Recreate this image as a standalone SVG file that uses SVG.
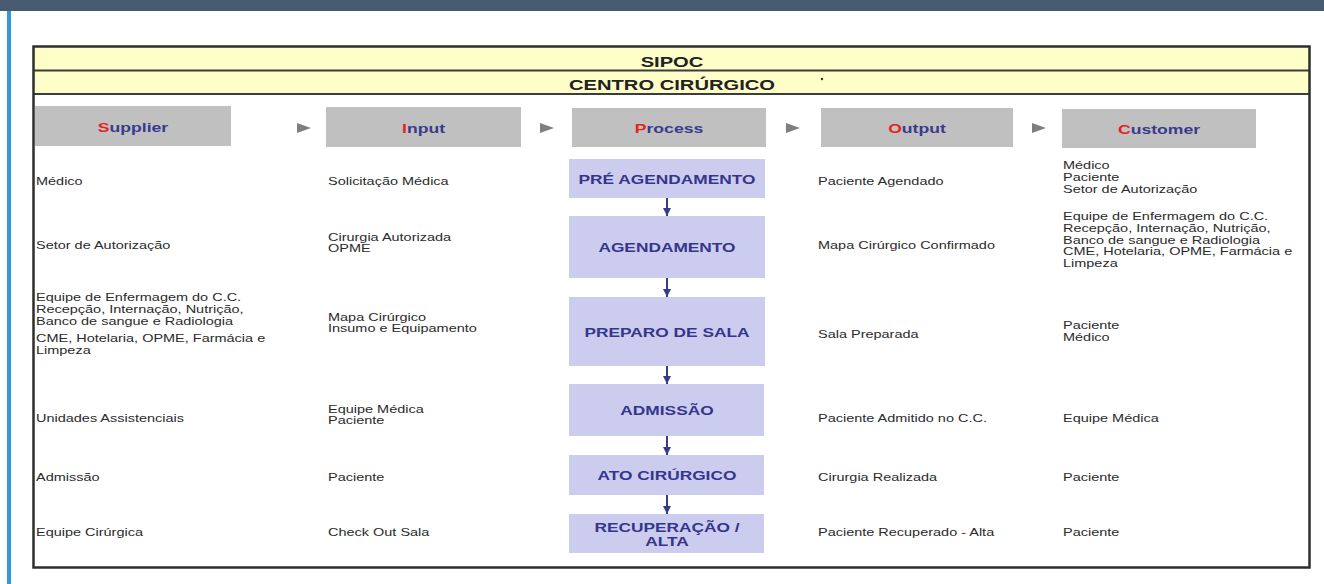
<svg xmlns="http://www.w3.org/2000/svg" width="1324" height="584" viewBox="0 0 1324 584">
  <style>
    .body { font-family: "Liberation Sans", Arial, sans-serif; font-size: 10.2px; fill: #2b2b2b; }
    .head { font-family: "Liberation Sans", Arial, sans-serif; font-size: 12.4px; font-weight: bold; fill: #3a3a8e; text-anchor: middle; }
    .head .first { fill: #e3241f; }
    .title { font-family: "Liberation Sans", Arial, sans-serif; font-size: 14.2px; font-weight: bold; fill: #222; text-anchor: middle; }
    .proc rect { fill: #ccccee; }
    .proc text { font-family: "Liberation Sans", Arial, sans-serif; font-size: 12.2px; font-weight: bold; fill: #35358c; text-anchor: middle; }
    .hbox { fill: #c0c0c0; }
    .tri { fill: #7f7f7f; }
    .flow { stroke: #3a3a8c; stroke-width: 2; fill: none; marker-end: url(#ah); }
  </style>
  <defs>
    <marker id="ah" markerUnits="userSpaceOnUse" markerWidth="9" markerHeight="8" refX="8" refY="4" orient="auto">
      <path d="M0,0 L8,4 L0,8 Z" fill="#3a3a8c"/>
    </marker>
  </defs>

  <!-- page frame -->
  <rect x="0" y="0" width="1324" height="584" fill="#ffffff"/>
  <rect x="0" y="0" width="1324" height="11" fill="#475a6f"/>
  <rect x="7" y="11" width="4" height="573" fill="#3497da"/>

  <!-- table -->
  <g id="table">
    <rect x="34" y="47" width="1275" height="23" fill="#fefec9"/>
    <rect x="34" y="71" width="1275" height="23" fill="#fefec9"/>
    <line x1="34" y1="70.5" x2="1309" y2="70.5" stroke="#3c3c3c" stroke-width="2"/>
    <line x1="34" y1="94" x2="1309" y2="94" stroke="#3c3c3c" stroke-width="2"/>
    <rect x="33.5" y="46.5" width="1276" height="521" fill="none" stroke="#2e2e2e" stroke-width="2.5"/>
    <text class="title" transform="translate(672 67) scale(1.42 1)">SIPOC</text>
    <text class="title" transform="translate(672 90) scale(1.42 1)">CENTRO CIRÚRGICO</text>
    <circle cx="822" cy="79" r="1.2" fill="#333"/>
  </g>

  <!-- column headers -->
  <g id="hdr-supplier">
    <rect class="hbox" x="35" y="106" width="196" height="40"/>
    <text class="head" transform="translate(133 132) scale(1.42 1)"><tspan class="first">S</tspan>upplier</text>
  </g>
  <g id="hdr-input">
    <rect class="hbox" x="326" y="107" width="195" height="40"/>
    <text class="head" transform="translate(423.5 133) scale(1.42 1)"><tspan class="first">I</tspan>nput</text>
  </g>
  <g id="hdr-process">
    <rect class="hbox" x="572" y="108" width="194" height="39"/>
    <text class="head" transform="translate(669 133) scale(1.42 1)"><tspan class="first">P</tspan>rocess</text>
  </g>
  <g id="hdr-output">
    <rect class="hbox" x="821" y="108" width="192" height="39"/>
    <text class="head" transform="translate(917 133) scale(1.42 1)"><tspan class="first">O</tspan>utput</text>
  </g>
  <g id="hdr-customer">
    <rect class="hbox" x="1062" y="109" width="194" height="39"/>
    <text class="head" transform="translate(1159 134) scale(1.42 1)"><tspan class="first">C</tspan>ustomer</text>
  </g>

  <g id="header-arrows">
    <polygon class="tri" points="297,123 311,128 297,133"/>
    <polygon class="tri" points="540,123 554,128 540,133"/>
    <polygon class="tri" points="786,123 800,128 786,133"/>
    <polygon class="tri" points="1032,123 1046,128 1032,133"/>
  </g>

  <!-- process steps -->
  <g id="p-pre-agendamento" class="proc">
    <rect x="569" y="159" width="196" height="39"/>
    <text transform="translate(667 183.5) scale(1.42 1)">PRÉ AGENDAMENTO</text>
  </g>
  <g id="p-agendamento" class="proc">
    <rect x="569" y="216" width="196" height="62"/>
    <text transform="translate(667 251.5) scale(1.42 1)">AGENDAMENTO</text>
  </g>
  <g id="p-preparo-sala" class="proc">
    <rect x="569" y="297" width="196" height="69"/>
    <text transform="translate(667 336.5) scale(1.42 1)">PREPARO DE SALA</text>
  </g>
  <g id="p-admissao" class="proc">
    <rect x="569" y="384" width="195" height="52"/>
    <text transform="translate(667 414.5) scale(1.42 1)">ADMISSÃO</text>
  </g>
  <g id="p-ato-cirurgico" class="proc">
    <rect x="569" y="455" width="195" height="40"/>
    <text transform="translate(667 479.5) scale(1.42 1)">ATO CIRÚRGICO</text>
  </g>
  <g id="p-recuperacao" class="proc">
    <rect x="569" y="514" width="195" height="39"/>
    <text transform="translate(667 531.5) scale(1.42 1)">RECUPERAÇÃO /<tspan x="0" dy="15">ALTA</tspan></text>
  </g>

  <g id="connectors">
    <line class="flow" x1="667" y1="198" x2="667" y2="216"/>
    <line class="flow" x1="667" y1="278" x2="667" y2="297"/>
    <line class="flow" x1="667" y1="366" x2="667" y2="384"/>
    <line class="flow" x1="667" y1="436" x2="667" y2="455"/>
    <line class="flow" x1="667" y1="495" x2="667" y2="514"/>
  </g>

  <!-- supplier column -->
  <g id="col-supplier" class="body">
    <text class="body" transform="translate(36 185) scale(1.42 1)">Médico</text>
    <text class="body" transform="translate(36 249) scale(1.42 1)">Setor de Autorização</text>
    <text class="body" transform="translate(36 301) scale(1.42 1)">Equipe de Enfermagem do C.C.<tspan x="0" dy="12">Recepção, Internação, Nutrição,</tspan><tspan x="0" dy="12">Banco de sangue e Radiologia</tspan><tspan x="0" dy="17">CME, Hotelaria, OPME, Farmácia e</tspan><tspan x="0" dy="12">Limpeza</tspan></text>
    <text class="body" transform="translate(36 422) scale(1.42 1)">Unidades Assistenciais</text>
    <text class="body" transform="translate(36 481) scale(1.42 1)">Admissão</text>
    <text class="body" transform="translate(36 536) scale(1.42 1)">Equipe Cirúrgica</text>
  </g>

  <!-- input column -->
  <g id="col-input" class="body">
    <text class="body" transform="translate(328 185) scale(1.42 1)">Solicitação Médica</text>
    <text class="body" transform="translate(328 241) scale(1.42 1)">Cirurgia Autorizada<tspan x="0" dy="11.5">OPME</tspan></text>
    <text class="body" transform="translate(328 321) scale(1.42 1)">Mapa Cirúrgico<tspan x="0" dy="11.5">Insumo e Equipamento</tspan></text>
    <text class="body" transform="translate(328 413) scale(1.42 1)">Equipe Médica<tspan x="0" dy="11.5">Paciente</tspan></text>
    <text class="body" transform="translate(328 481) scale(1.42 1)">Paciente</text>
    <text class="body" transform="translate(328 536) scale(1.42 1)">Check Out Sala</text>
  </g>

  <!-- output column -->
  <g id="col-output" class="body">
    <text class="body" transform="translate(818 185) scale(1.42 1)">Paciente Agendado</text>
    <text class="body" transform="translate(818 249) scale(1.42 1)">Mapa Cirúrgico Confirmado</text>
    <text class="body" transform="translate(818 338) scale(1.42 1)">Sala Preparada</text>
    <text class="body" transform="translate(818 422) scale(1.42 1)">Paciente Admitido no C.C.</text>
    <text class="body" transform="translate(818 481) scale(1.42 1)">Cirurgia Realizada</text>
    <text class="body" transform="translate(818 536) scale(1.42 1)">Paciente Recuperado - Alta</text>
  </g>

  <!-- customer column -->
  <g id="col-customer" class="body">
    <text class="body" transform="translate(1063 169) scale(1.42 1)">Médico<tspan x="0" dy="12">Paciente</tspan><tspan x="0" dy="12">Setor de Autorização</tspan></text>
    <text class="body" transform="translate(1063 220) scale(1.42 1)">Equipe de Enfermagem do C.C.<tspan x="0" dy="11.8">Recepção, Internação, Nutrição,</tspan><tspan x="0" dy="11.8">Banco de sangue e Radiologia</tspan><tspan x="0" dy="11.8">CME, Hotelaria, OPME, Farmácia e</tspan><tspan x="0" dy="11.8">Limpeza</tspan></text>
    <text class="body" transform="translate(1063 329) scale(1.42 1)">Paciente<tspan x="0" dy="12">Médico</tspan></text>
    <text class="body" transform="translate(1063 422) scale(1.42 1)">Equipe Médica</text>
    <text class="body" transform="translate(1063 481) scale(1.42 1)">Paciente</text>
    <text class="body" transform="translate(1063 536) scale(1.42 1)">Paciente</text>
  </g>
</svg>
